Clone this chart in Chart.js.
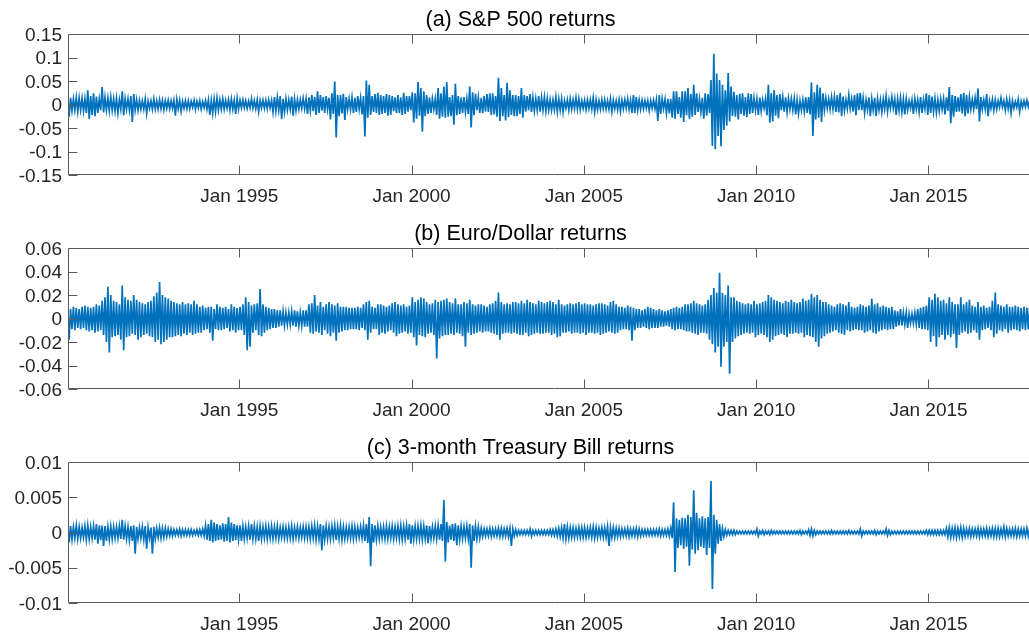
<!DOCTYPE html>
<html>
<head>
<meta charset="utf-8">
<script src="https://cdn.jsdelivr.net/npm/chart.js@4.4.1/dist/chart.umd.min.js"></script>
<style>
  html, body { margin: 0; padding: 0; background: #fff; overflow: hidden; width: 1029px; height: 632px; }
  canvas { position: absolute; left: 0; }
</style>
</head>
<body>
<canvas id="spx" width="1041" height="210" style="top:0px"></canvas>
<canvas id="eur" width="1041" height="210" style="top:214px"></canvas>
<canvas id="tbill" width="1041" height="210" style="top:428px"></canvas>
<script>
// Monthly high / low daily returns, Jan 1990 .. Dec 2017, one row per year.
const START_YEAR = 1990;

// S&P 500, in thousandths
const SPX_UNIT = 0.001;
const spxHigh = [
  18,14,12,15,14,13,12,30,18,24,17,12,
  37,15,14,16,12,13,10,28,12,12,18,22,
  10,9,8,12,7,8,12,8,10,9,8,9,
  8,9,11,9,7,8,8,7,9,7,8,6,
  8,10,9,12,14,10,12,9,10,12,9,13,
  9,10,8,7,12,8,10,8,9,9,10,9,
  16,15,18,12,12,10,17,12,10,10,13,12,
  15,20,16,28,20,16,18,14,24,49,20,20,
  23,16,12,15,14,18,14,18,51,42,18,22,
  25,20,18,22,20,18,15,20,15,25,18,18,
  26,24,48,35,28,20,15,12,12,35,24,38,
  48,16,20,44,18,15,16,12,38,26,23,15,
  14,18,22,24,24,18,57,35,20,46,30,20,
  20,18,35,20,18,22,15,12,18,15,16,13,
  10,10,16,12,12,8,10,12,10,14,12,8,
  9,10,10,14,10,8,10,10,8,12,9,8,
  10,9,10,12,9,20,16,10,9,8,8,8,
  9,10,20,12,11,12,12,28,28,16,28,28,
  35,22,42,24,12,14,24,22,52,108,66,52,
  42,30,67,38,27,20,23,24,16,24,22,14,
  12,15,10,12,42,24,31,20,22,16,15,13,
  12,13,10,8,10,15,16,47,26,42,36,24,
  14,12,16,16,20,25,17,10,20,12,20,24,
  25,14,10,15,12,14,12,10,12,18,10,16,
  12,12,14,12,12,8,10,12,10,16,10,24,
  20,17,13,10,12,12,15,37,20,18,15,22,
  25,20,16,11,14,34,16,10,22,8,11,10,
  8,14,8,11,10,8,6,11,7,8,9,9
];
const spxLow = [
  -26,-13,-12,-15,-12,-14,-18,-31,-22,-25,-18,-12,
  -17,-12,-13,-12,-14,-18,-10,-23,-10,-12,-37,-12,
  -12,-10,-10,-19,-8,-10,-10,-10,-9,-11,-8,-9,
  -8,-24,-9,-14,-8,-9,-9,-6,-10,-7,-10,-7,
  -10,-22,-18,-15,-12,-10,-10,-8,-12,-10,-20,-10,
  -7,-7,-8,-7,-8,-9,-15,-7,-8,-9,-7,-16,
  -14,-12,-31,-16,-12,-10,-24,-13,-10,-8,-9,-20,
  -13,-14,-22,-18,-13,-18,-10,-32,-20,-70,-25,-19,
  -33,-10,-11,-18,-16,-10,-21,-68,-28,-22,-16,-18,
  -22,-20,-18,-24,-22,-14,-18,-18,-22,-20,-15,-12,
  -38,-30,-24,-58,-25,-20,-18,-10,-22,-30,-26,-28,
  -26,-25,-43,-23,-20,-18,-16,-20,-49,-23,-12,-18,
  -18,-15,-16,-22,-21,-26,-35,-25,-34,-27,-22,-25,
  -25,-20,-28,-15,-12,-16,-14,-12,-15,-12,-14,-12,
  -12,-11,-15,-12,-16,-8,-12,-10,-9,-10,-11,-8,
  -11,-9,-10,-16,-11,-10,-9,-10,-10,-15,-9,-11,
  -14,-9,-8,-10,-18,-18,-12,-10,-9,-8,-13,-8,
  -9,-35,-20,-9,-18,-19,-28,-30,-20,-28,-37,-23,
  -30,-26,-22,-16,-16,-30,-24,-18,-88,-95,-67,-89,
  -54,-45,-36,-25,-26,-32,-20,-24,-27,-20,-18,-12,
  -22,-14,-8,-23,-39,-36,-24,-29,-12,-15,-16,-10,
  -12,-21,-19,-12,-15,-18,-21,-67,-32,-28,-37,-12,
  -8,-10,-10,-16,-17,-25,-13,-9,-9,-15,-23,-12,
  -12,-18,-11,-25,-12,-25,-12,-16,-10,-15,-8,-8,
  -22,-13,-16,-21,-12,-8,-20,-10,-16,-18,-9,-22,
  -18,-15,-17,-14,-10,-21,-13,-40,-26,-16,-15,-19,
  -25,-19,-10,-10,-10,-36,-10,-10,-25,-8,-12,-10,
  -6,-5,-12,-9,-18,-8,-6,-15,-6,-5,-5,-5
];

// Euro/Dollar, in thousandths
const EUR_UNIT = 0.001;
const eurHigh = [
  9,8,10,9,8,10,11,10,9,10,12,11,
  15,18,27,20,15,14,12,28,18,16,15,20,
  16,14,13,12,14,15,19,22,31,20,18,17,
  15,14,13,12,14,12,13,12,15,12,10,11,
  9,10,10,8,12,10,9,10,8,12,10,9,
  10,12,18,14,11,12,13,25,12,10,9,8,
  8,7,7,6,5,5,6,7,6,5,7,7,
  12,13,20,11,14,10,12,14,12,11,13,10,
  10,10,9,9,9,10,9,12,14,15,10,9,
  12,12,11,10,11,13,14,12,11,12,10,11,
  18,14,16,18,17,14,12,13,16,14,15,16,
  17,14,13,17,12,12,14,13,16,12,11,12,
  12,11,10,12,13,15,22,14,12,13,12,14,
  14,13,15,13,16,14,13,12,15,14,13,14,
  15,14,12,16,12,11,12,13,12,13,14,12,
  13,12,12,11,12,13,13,12,11,14,15,12,
  10,10,9,11,10,9,8,8,7,8,10,9,
  8,7,8,7,6,7,8,9,10,9,10,12,
  12,13,15,13,12,11,12,16,20,26,22,39,
  22,20,28,18,18,15,14,13,12,13,12,15,
  12,13,14,15,20,18,16,15,14,13,15,14,
  16,14,13,14,17,15,16,21,18,20,16,14,
  14,12,11,10,12,13,12,11,14,10,9,10,
  12,11,10,11,17,12,13,10,11,10,9,10,
  7,6,8,5,5,4,4,5,8,9,10,11,
  18,16,21,18,15,16,13,18,14,12,12,18,
  12,14,16,11,10,14,10,11,9,10,15,22,
  12,11,10,12,10,10,11,10,9,10,9,10
];
const eurLow = [
  -18,-9,-10,-8,-9,-8,-10,-11,-10,-12,-11,-10,
  -14,-20,-29,-16,-15,-14,-18,-27,-16,-15,-13,-14,
  -18,-16,-14,-13,-15,-16,-20,-18,-22,-20,-18,-16,
  -16,-15,-14,-15,-13,-14,-12,-14,-13,-12,-12,-10,
  -9,-12,-19,-9,-10,-10,-9,-8,-11,-10,-12,-10,
  -10,-14,-27,-24,-12,-10,-14,-15,-12,-10,-9,-8,
  -8,-7,-6,-6,-5,-5,-6,-7,-6,-6,-7,-7,
  -12,-13,-11,-12,-14,-10,-13,-15,-12,-19,-12,-11,
  -10,-10,-9,-9,-9,-10,-8,-10,-18,-12,-9,-9,
  -14,-12,-13,-11,-10,-12,-15,-13,-12,-11,-13,-12,
  -16,-23,-14,-15,-16,-13,-12,-14,-34,-17,-15,-14,
  -14,-13,-14,-12,-13,-15,-24,-12,-14,-13,-12,-11,
  -12,-11,-11,-12,-13,-14,-18,-13,-12,-12,-13,-12,
  -13,-14,-14,-12,-15,-14,-13,-12,-13,-13,-12,-12,
  -14,-13,-16,-15,-12,-12,-11,-13,-12,-12,-13,-12,
  -14,-12,-12,-13,-12,-14,-13,-12,-11,-12,-13,-12,
  -10,-9,-9,-10,-19,-10,-8,-8,-7,-8,-9,-8,
  -8,-8,-7,-7,-6,-7,-9,-10,-9,-9,-10,-11,
  -11,-12,-13,-14,-12,-12,-13,-18,-22,-29,-24,-41,
  -24,-20,-47,-20,-17,-15,-14,-13,-12,-13,-12,-16,
  -14,-13,-14,-16,-20,-18,-15,-14,-13,-14,-16,-13,
  -13,-12,-13,-12,-16,-14,-15,-16,-20,-24,-17,-15,
  -13,-12,-11,-10,-12,-13,-14,-10,-11,-10,-9,-10,
  -10,-12,-11,-10,-12,-13,-11,-10,-9,-10,-9,-9,
  -7,-6,-6,-5,-8,-4,-4,-5,-8,-9,-9,-10,
  -20,-15,-24,-16,-14,-18,-14,-16,-13,-25,-14,-12,
  -11,-13,-12,-10,-12,-18,-10,-9,-8,-10,-16,-13,
  -10,-11,-9,-12,-10,-9,-10,-11,-9,-10,-9,-10
];

// 3-month Treasury Bill, in basis points (0.0001)
const TB_UNIT = 0.0001;
const tbHigh = [
  12,9,8,10,8,7,9,10,8,9,12,10,
  10,9,8,9,8,8,9,18,9,8,9,10,
  8,7,8,9,7,7,8,6,7,6,6,5,
  5,4,4,5,4,4,4,4,3,4,4,5,
  10,12,18,14,12,10,13,12,22,14,12,10,
  10,9,8,9,12,9,8,9,8,9,8,9,
  8,9,7,8,7,8,9,7,8,7,8,8,
  8,9,10,9,12,10,9,8,9,10,9,10,
  8,7,8,9,8,7,8,10,12,22,12,10,
  9,8,8,9,8,9,8,9,10,9,10,12,
  10,9,9,10,9,10,9,8,9,10,12,46,
  15,10,12,13,10,9,8,9,12,10,9,8,
  6,5,5,6,5,5,6,6,5,6,6,5,
  4,3,3,3,3,5,3,3,3,3,3,3,
  4,4,5,6,7,12,8,7,7,6,7,7,
  7,6,7,8,7,6,7,7,8,7,7,6,
  6,5,5,6,5,5,6,5,4,4,4,4,
  4,4,5,4,4,5,6,43,20,18,21,20,
  25,22,60,28,20,23,20,22,73,25,18,12,
  6,4,3,3,3,2,2,2,2,2,2,2,
  5,2,3,2,2,3,2,2,2,2,2,2,
  2,2,2,3,2,2,4,5,3,2,2,2,
  2,2,3,2,2,2,2,2,3,2,2,2,
  5,2,2,2,2,3,2,2,2,5,3,2,
  2,2,2,2,2,2,2,2,2,2,2,3,
  3,3,3,3,3,3,6,7,6,7,6,7,
  6,5,6,5,5,6,5,5,6,5,6,6,
  6,5,8,6,5,5,6,5,5,5,6,6
];
const tbLow = [
  -14,-10,-8,-9,-8,-7,-10,-9,-8,-10,-16,-11,
  -19,-12,-10,-9,-8,-8,-9,-10,-9,-11,-12,-30,
  -9,-8,-10,-23,-8,-30,-9,-7,-8,-7,-6,-5,
  -5,-4,-4,-5,-4,-4,-4,-4,-3,-4,-4,-5,
  -10,-12,-14,-12,-11,-10,-13,-12,-14,-12,-11,-10,
  -12,-9,-8,-10,-9,-9,-12,-9,-8,-9,-8,-9,
  -8,-9,-7,-8,-8,-8,-9,-7,-8,-7,-8,-8,
  -9,-8,-10,-9,-25,-10,-9,-9,-8,-11,-9,-10,
  -9,-8,-8,-9,-8,-7,-8,-12,-15,-48,-14,-10,
  -9,-8,-9,-9,-8,-9,-8,-9,-10,-9,-10,-16,
  -10,-9,-9,-10,-9,-15,-9,-8,-9,-10,-12,-41,
  -14,-10,-12,-18,-10,-9,-8,-9,-50,-12,-9,-8,
  -6,-5,-5,-6,-5,-5,-6,-6,-5,-6,-19,-5,
  -4,-3,-3,-3,-3,-5,-3,-3,-3,-3,-3,-3,
  -4,-4,-5,-6,-8,-9,-8,-7,-7,-6,-7,-7,
  -7,-6,-7,-8,-7,-6,-7,-7,-19,-7,-7,-6,
  -6,-5,-5,-6,-5,-5,-6,-5,-4,-4,-4,-4,
  -4,-4,-5,-4,-4,-5,-8,-56,-22,-18,-23,-20,
  -47,-24,-30,-25,-20,-22,-32,-22,-80,-30,-16,-12,
  -6,-4,-3,-3,-3,-2,-2,-2,-2,-2,-2,-2,
  -5,-2,-3,-2,-3,-2,-2,-2,-2,-2,-2,-2,
  -2,-2,-2,-3,-2,-2,-4,-5,-3,-2,-2,-2,
  -2,-2,-2,-2,-2,-2,-2,-2,-2,-2,-2,-2,
  -5,-2,-2,-2,-2,-3,-2,-2,-2,-4,-3,-2,
  -2,-2,-2,-2,-2,-2,-2,-2,-2,-2,-2,-3,
  -3,-3,-3,-3,-3,-3,-6,-7,-6,-7,-6,-7,
  -6,-5,-6,-5,-5,-6,-5,-5,-6,-5,-6,-6,
  -6,-5,-6,-5,-5,-5,-6,-5,-5,-5,-5,-6
];

// Axis ticks
const X_MIN = 1990.03, X_MAX = 2018.265;
const X_TICKS = [1995, 2000, 2005, 2010, 2015];
const X_LABELS = ['Jan 1995', 'Jan 2000', 'Jan 2005', 'Jan 2010', 'Jan 2015'];
const SPX_TICKS = [-0.15, -0.1, -0.05, 0, 0.05, 0.1, 0.15];
const SPX_LABELS = ['-0.15', '-0.1', '-0.05', '0', '0.05', '0.1', '0.15'];
const EUR_TICKS = [-0.06, -0.04, -0.02, 0, 0.02, 0.04, 0.06];
const EUR_LABELS = ['-0.06', '-0.04', '-0.02', '0', '0.02', '0.04', '0.06'];
const TB_TICKS = [-0.01, -0.005, 0, 0.005, 0.01];
const TB_LABELS = ['-0.01', '-0.005', '0', '0.005', '0.01'];

const LINE_COLOR = '#0072BD';
const AXIS_COLOR = '#5a5a5a';
const TEXT_COLOR = '#262626';
const FONT = 'Liberation Sans, Arial, Helvetica, sans-serif';

// Each month contributes its high then its low, so the trace sweeps the month's range.
function monthlyRange(highs, lows, unit) {
  const pts = [];
  for (let m = 0; m < highs.length; m++) {
    const t = START_YEAR + m / 12;
    pts.push({ x: t + 1 / 48, y: highs[m] * unit });
    pts.push({ x: t + 3 / 48, y: lows[m] * unit });
  }
  return pts;
}

// Box around the plot area with inward tick marks.
const boxPlugin = {
  id: 'box',
  afterDatasetsDraw(chart) {
    const { ctx, chartArea: a, scales } = chart;
    const L = Math.round(a.left) + 0.5, T = Math.round(a.top) + 0.5;
    const B = Math.round(a.bottom) - 0.5, R = Math.round(a.right) - 0.5;
    const len = 9;
    ctx.save();
    ctx.strokeStyle = AXIS_COLOR;
    ctx.lineWidth = 1;
    ctx.beginPath();
    ctx.rect(L, T, R - L, B - T);
    scales.x.ticks.forEach(t => {
      const px = Math.round(scales.x.getPixelForValue(t.value)) + 0.5;
      ctx.moveTo(px, T); ctx.lineTo(px, T + len);
      ctx.moveTo(px, B); ctx.lineTo(px, B - len);
    });
    scales.y.ticks.forEach(t => {
      const py = Math.round(scales.y.getPixelForValue(t.value)) + 0.5;
      ctx.moveTo(L, py); ctx.lineTo(L + len, py);
      ctx.moveTo(R, py); ctx.lineTo(R - len, py);
    });
    ctx.stroke();
    ctx.restore();
  }
};

function makePanel(id, title, highs, lows, unit, yTicks, yLabels) {
  new Chart(document.getElementById(id), {
    type: 'line',
    data: {
      datasets: [{
        data: monthlyRange(highs, lows, unit),
        borderColor: LINE_COLOR,
        borderWidth: 1.7,
        pointRadius: 0,
        tension: 0,
        fill: false
      }]
    },
    options: {
      responsive: false,
      animation: false,
      events: [],
      parsing: false,
      normalized: true,
      layout: { padding: 0 },
      plugins: {
        legend: { display: false },
        tooltip: { enabled: false },
        title: {
          display: true,
          text: title,
          color: '#000',
          font: { family: FONT, size: 21.5, weight: 'normal', lineHeight: 1.2 },
          padding: { top: 7, bottom: 1.2 }
        }
      },
      scales: {
        x: {
          type: 'linear',
          min: X_MIN,
          max: X_MAX,
          afterBuildTicks: s => { s.ticks = X_TICKS.map(v => ({ value: v })); },
          afterFit: s => { s.height = 35; },
          grid: { display: false, drawTicks: false },
          border: { display: false },
          ticks: {
            autoSkip: false,
            maxRotation: 0,
            padding: 10,
            color: TEXT_COLOR,
            font: { family: FONT, size: 19 },
            callback: (v, i) => X_LABELS[i]
          }
        },
        y: {
          type: 'linear',
          min: yTicks[0],
          max: yTicks[yTicks.length - 1],
          afterBuildTicks: s => { s.ticks = yTicks.map(v => ({ value: v })); },
          afterFit: s => { s.width = 68; },
          grid: { display: false, drawTicks: false },
          border: { display: false },
          ticks: {
            autoSkip: false,
            padding: 6,
            labelOffset: 1.5,
            color: TEXT_COLOR,
            font: { family: FONT, size: 19 },
            callback: (v, i) => yLabels[i]
          }
        }
      }
    },
    plugins: [boxPlugin]
  });
}

makePanel('spx', '(a) S&P 500 returns', spxHigh, spxLow, SPX_UNIT, SPX_TICKS, SPX_LABELS);
makePanel('eur', '(b) Euro/Dollar returns', eurHigh, eurLow, EUR_UNIT, EUR_TICKS, EUR_LABELS);
makePanel('tbill', '(c) 3-month Treasury Bill returns', tbHigh, tbLow, TB_UNIT, TB_TICKS, TB_LABELS);
</script>
</body>
</html>
